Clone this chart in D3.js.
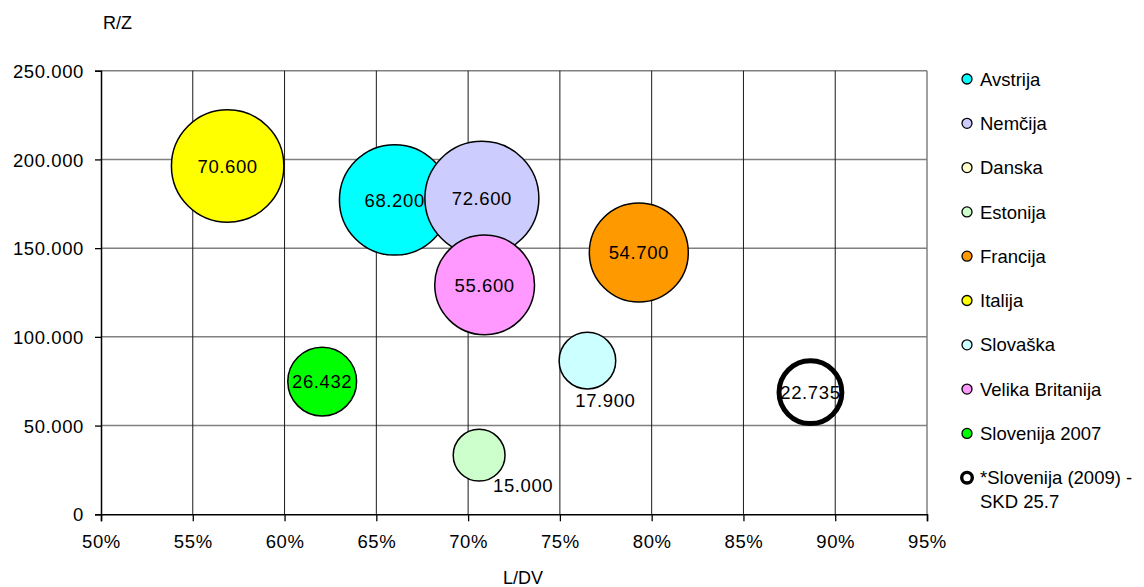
<!DOCTYPE html>
<html>
<head>
<meta charset="utf-8">
<script src="https://cdn.jsdelivr.net/npm/d3@7"></script>
<style>
	body { margin: 0; background: #fff; }
	text { font-family: "Liberation Sans", Arial, sans-serif; fill: #000; }
</style>
</head>
<body>
<div id="chartDiv"></div>
<script>
// data
var countries = ["Avstrija", "Nemčija", "Danska", "Estonija", "Francija", "Italija", "Slovaška", "Velika Britanija", "Slovenija 2007", "*Slovenija (2009) - SKD 25.7"];
var ldv = [0.660, 0.7075, null, 0.706, 0.793, 0.569, 0.765, 0.709, 0.6205, 0.8865];     // L/DV
var rz = [177200, 178100, null, 33300, 147500, 196300, 86600, 129300, 74800, 68800];   // R/Z
var sizes = [68.2, 72.6, null, 15.0, 54.7, 70.6, 17.9, 55.6, 26.432, 22.735];
var colors = ["#00ffff", "#ccccff", "#ffffcc", "#ccffcc", "#ff9900", "#ffff00", "#ccffff", "#ff99ff", "#00ff00", "#ffffff"];
var xTicks = [0.50, 0.55, 0.60, 0.65, 0.70, 0.75, 0.80, 0.85, 0.90, 0.95];
var yTicks = [0, 50000, 100000, 150000, 200000, 250000];

// label nudges for the small bubbles (pixels)
var labelShift = { 3: [44, 30], 6: [18, 40] };

var W = 1144, H = 587;
var plotL = 101, plotR = 927, plotT = 70.7, plotB = 514.3;

var locale = d3.formatLocale({ decimal: ",", thousands: ".", grouping: [3], currency: ["", "€"] });
var fmtY = locale.format(",d");
var fmtSize = function(v) { return locale.format(",.3f")(v).replace(",", "."); };

var x = d3.scaleLinear().domain([0.5, 0.95]).range([plotL, plotR]);
var y = d3.scaleLinear().domain([0, 250000]).range([plotB, plotT]);
var r = d3.scaleSqrt().domain([0, 72.6]).range([0, 57]);

var svg = d3.select("#chartDiv").append("svg")
	.attr("width", W)
	.attr("height", H);

// grid
var grid = svg.append("g");
grid.selectAll("line.h")
	.data(yTicks.slice(1))
	.enter().append("line")
	.attr("x1", plotL).attr("x2", plotR)
	.attr("y1", function(d) { return y(d); })
	.attr("y2", function(d) { return y(d); })
	.attr("stroke", "#808080")
	.attr("stroke-width", 1.5);
grid.selectAll("line.v")
	.data(xTicks.slice(1, -1))
	.enter().append("line")
	.attr("y1", plotT).attr("y2", plotB)
	.attr("x1", function(d) { return x(d); })
	.attr("x2", function(d) { return x(d); })
	.attr("stroke", "#1a1a1a")
	.attr("stroke-width", 1);
grid.append("line")
	.attr("x1", plotR).attr("x2", plotR).attr("y1", plotT).attr("y2", plotB)
	.attr("stroke", "#808080").attr("stroke-width", 1.5);

// axes
var xAxis = d3.axisBottom(x).tickValues(xTicks).tickSize(7).tickPadding(14)
	.tickFormat(function(d) { return Math.round(d * 100) + "%"; });
var yAxis = d3.axisLeft(y).tickValues(yTicks).tickSize(6).tickPadding(11)
	.tickFormat(fmtY);

var gx = svg.append("g").attr("transform", "translate(0," + plotB + ")").call(xAxis);
var gy = svg.append("g").attr("transform", "translate(" + plotL + ",0)").call(yAxis);
[gx, gy].forEach(function(g) {
	g.select(".domain").attr("stroke", "#000").attr("stroke-width", 1.5);
	g.selectAll(".tick line").attr("stroke", "#000").attr("stroke-width", 1.3);
	g.selectAll(".tick text").style("font-size", "18.5px").style("letter-spacing", "0.6px").attr("fill", "#000");
});
gy.selectAll(".tick text").attr("dy", "0.36em");

// axis titles
svg.append("text").attr("x", 103).attr("y", 29).style("font-size", "18px").text("R/Z");
svg.append("text").attr("x", 523).attr("y", 584).attr("text-anchor", "middle").style("font-size", "18px").text("L/DV");

// bubbles
var rows = countries.map(function(c, i) {
	return { name: c, i: i, x: ldv[i], y: rz[i], s: sizes[i], color: colors[i] };
}).filter(function(d) { return d.s !== null; });

var bubbles = svg.append("g");
rows.forEach(function(d) {
	var last = d.i === countries.length - 1;
	bubbles.append("circle")
		.attr("cx", x(d.x))
		.attr("cy", y(d.y))
		.attr("r", last ? r(d.s) - 0.5 : r(d.s))
		.attr("fill", last ? "none" : d.color)
		.attr("stroke", "#000")
		.attr("stroke-width", last ? 5 : 1.5);
});
var labels = svg.append("g");
rows.forEach(function(d) {
	var sh = labelShift[d.i] || [0, 0];
	labels.append("text")
		.attr("x", x(d.x) + sh[0])
		.attr("y", y(d.y) + sh[1])
		.attr("dy", "0.36em")
		.attr("text-anchor", "middle")
		.style("font-size", "18.5px")
		.style("letter-spacing", "0.6px")
		.text(fmtSize(d.s));
});

// legend
var legend = svg.append("g");
countries.forEach(function(c, i) {
	var ly = 79 + i * 44.3;
	var last = i === countries.length - 1;
	legend.append("circle")
		.attr("cx", 967).attr("cy", ly)
		.attr("r", last ? 5.3 : 5)
		.attr("fill", colors[i])
		.attr("stroke", "#000")
		.attr("stroke-width", last ? 3.4 : 1.3);
	var t = legend.append("text")
		.attr("x", 980).attr("y", ly)
		.attr("dy", "0.36em")
		.style("font-size", "18.5px");
	if (last) {
		t.append("tspan").attr("x", 980).text("*Slovenija (2009) -");
		t.append("tspan").attr("x", 980).attr("dy", "1.3em").text("SKD 25.7");
	} else {
		t.text(c);
	}
});
</script>
</body>
</html>
